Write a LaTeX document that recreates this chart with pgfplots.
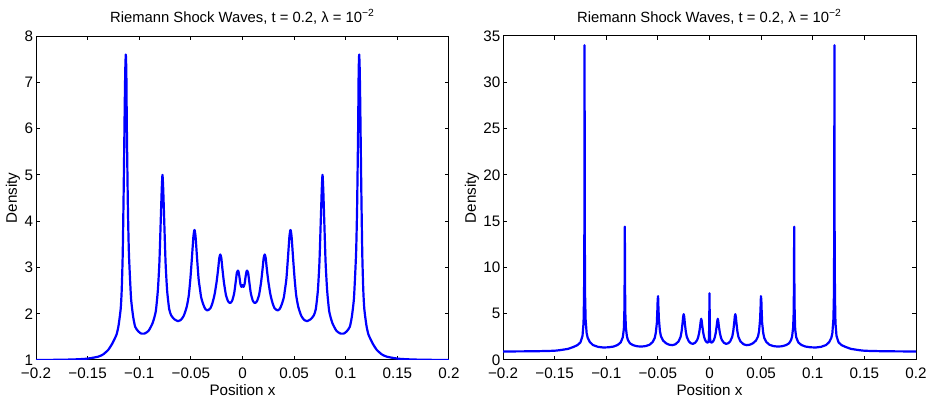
\documentclass[border=0pt]{standalone}
\usepackage{pgfplots}
\pgfplotsset{compat=1.18}
\usepackage{pgfplotstable}
\usepackage{graphicx}
\usepackage{fontspec}
\setmainfont{Liberation Sans}
\definecolor{mblue}{rgb}{0,0,1}

\pgfplotstableread{
x y
-0.2 1.0
-0.175 1.005
-0.160 1.015
-0.150 1.03
-0.140 1.07
-0.135 1.12
-0.130 1.22
-0.126 1.36
-0.122 1.55
-0.120 1.75
-0.118 2.1
-0.117 2.5
-0.116 3.3
-0.115 4.8
-0.114 6.6
-0.1135 7.3
-0.113 7.6
-0.1125 7.2
-0.112 6.0
-0.111 4.3
-0.110 3.3
-0.108 2.35
-0.106 1.95
-0.104 1.72
-0.101 1.62
-0.098 1.57
-0.095 1.57
-0.091 1.63
-0.087 1.8
-0.084 2.05
-0.082 2.5
-0.0805 3.1
-0.0792 4.0
-0.0782 4.7
-0.0775 5.0
-0.0768 4.7
-0.0758 4.0
-0.0745 3.1
-0.073 2.5
-0.071 2.1
-0.069 1.96
-0.066 1.88
-0.0625 1.84
-0.060 1.86
-0.057 1.95
-0.054 2.15
-0.052 2.4
-0.0505 2.75
-0.049 3.2
-0.0475 3.68
-0.0465 3.81
-0.0455 3.68
-0.044 3.2
-0.0425 2.75
-0.041 2.5
-0.040 2.35
-0.038 2.2
-0.036 2.1
-0.034 2.07
-0.031 2.12
-0.029 2.24
-0.027 2.42
-0.025 2.7
-0.0235 2.98
-0.0225 3.2
-0.0215 3.28
-0.0205 3.2
-0.0195 2.98
-0.018 2.68
-0.016 2.4
-0.014 2.27
-0.012 2.23
-0.010 2.28
-0.008 2.45
-0.0065 2.7
-0.0055 2.88
-0.0045 2.93
-0.004 2.92
-0.003 2.8
-0.002 2.64
-0.001 2.58
0 2.62
0.001 2.58
0.002 2.64
0.003 2.8
0.004 2.92
0.0045 2.93
0.0055 2.88
0.0065 2.7
0.008 2.45
0.010 2.28
0.012 2.23
0.014 2.27
0.016 2.4
0.018 2.68
0.0195 2.98
0.0205 3.2
0.0215 3.28
0.0225 3.2
0.0235 2.98
0.025 2.7
0.027 2.42
0.029 2.24
0.031 2.12
0.034 2.07
0.036 2.1
0.038 2.2
0.040 2.35
0.041 2.5
0.0425 2.75
0.044 3.2
0.0455 3.68
0.0465 3.81
0.0475 3.68
0.049 3.2
0.0505 2.75
0.052 2.4
0.054 2.15
0.057 1.95
0.060 1.86
0.0625 1.84
0.066 1.88
0.069 1.96
0.071 2.1
0.073 2.5
0.0745 3.1
0.0758 4.0
0.0768 4.7
0.0775 5.0
0.0782 4.7
0.0792 4.0
0.0805 3.1
0.082 2.5
0.084 2.05
0.087 1.8
0.091 1.63
0.095 1.57
0.098 1.57
0.101 1.62
0.104 1.72
0.106 1.95
0.108 2.35
0.110 3.3
0.111 4.3
0.112 6.0
0.1125 7.2
0.113 7.6
0.1135 7.3
0.114 6.6
0.115 4.8
0.116 3.3
0.117 2.5
0.118 2.1
0.120 1.75
0.122 1.55
0.126 1.36
0.130 1.22
0.135 1.12
0.140 1.07
0.150 1.03
0.160 1.015
0.175 1.005
0.2 1.0
}\lefttable

\pgfplotstableread{
x y
-0.2 0.92
-0.17 0.94
-0.155 0.98
-0.15 1.0
-0.145 1.06
-0.137 1.2
-0.132 1.4
-0.128 1.6
-0.125 1.9
-0.123 2.6
-0.122 4.0
-0.1215 7.0
-0.1212 14.0
-0.121 34.0
-0.1208 14.0
-0.1205 7.0
-0.120 4.4
-0.119 2.9
-0.118 2.4
-0.116 1.95
-0.113 1.62
-0.108 1.42
-0.103 1.35
-0.098 1.37
-0.093 1.45
-0.089 1.62
-0.086 1.9
-0.084 2.45
-0.083 3.3
-0.0825 5.0
-0.0822 8.5
-0.082 14.4
-0.0818 8.0
-0.0815 5.0
-0.081 3.5
-0.080 2.55
-0.079 2.15
-0.077 1.8
-0.074 1.6
-0.070 1.48
-0.066 1.45
-0.062 1.5
-0.058 1.65
-0.055 1.95
-0.053 2.4
-0.052 2.95
-0.051 4.0
-0.0505 5.4
-0.0502 6.5
-0.0498 6.9
-0.0495 5.8
-0.049 4.4
-0.048 3.1
-0.047 2.55
-0.045 2.1
-0.042 1.8
-0.039 1.65
-0.036 1.6
-0.033 1.7
-0.030 2.0
-0.028 2.5
-0.027 3.1
-0.026 4.1
-0.0255 4.7
-0.025 4.95
-0.0245 4.7
-0.024 4.1
-0.023 3.1
-0.022 2.5
-0.020 2.0
-0.018 1.8
-0.016 1.75
-0.014 1.85
-0.012 2.15
-0.011 2.45
-0.010 2.95
-0.009 3.7
-0.0085 4.2
-0.008 4.45
-0.0075 4.2
-0.007 3.7
-0.006 2.9
-0.005 2.4
-0.004 2.1
-0.003 1.95
-0.002 1.88
-0.001 1.95
-0.0006 2.3
-0.0003 3.5
0 7.2
0.0003 3.5
0.0006 2.3
0.001 1.95
0.002 1.88
0.003 1.95
0.004 2.1
0.005 2.4
0.006 2.9
0.007 3.7
0.0075 4.2
0.008 4.45
0.0085 4.2
0.009 3.7
0.010 2.95
0.011 2.45
0.012 2.15
0.014 1.85
0.016 1.75
0.018 1.8
0.020 2.0
0.022 2.5
0.023 3.1
0.024 4.1
0.0245 4.7
0.025 4.95
0.0255 4.7
0.026 4.1
0.027 3.1
0.028 2.5
0.030 2.0
0.033 1.7
0.036 1.6
0.039 1.65
0.042 1.8
0.045 2.1
0.047 2.55
0.048 3.1
0.049 4.4
0.0495 5.8
0.0498 6.9
0.0502 6.5
0.0505 5.4
0.051 4.0
0.052 2.95
0.053 2.4
0.055 1.95
0.058 1.65
0.062 1.5
0.066 1.45
0.070 1.48
0.074 1.6
0.077 1.8
0.079 2.15
0.080 2.55
0.081 3.5
0.0815 5.0
0.0818 8.0
0.082 14.4
0.0822 8.5
0.0825 5.0
0.083 3.3
0.084 2.45
0.086 1.9
0.089 1.62
0.093 1.45
0.098 1.37
0.103 1.35
0.108 1.42
0.113 1.62
0.116 1.95
0.118 2.4
0.119 2.9
0.120 4.4
0.1205 7.0
0.1208 14.0
0.121 34.0
0.1212 14.0
0.1215 7.0
0.122 4.0
0.123 2.6
0.125 1.9
0.128 1.6
0.132 1.4
0.137 1.2
0.145 1.06
0.15 1.0
0.155 0.98
0.17 0.94
0.2 0.92
}\righttable

\pgfplotsset{
  myaxis/.style={
    scale only axis,
    width=206.5pt, height=162pt,
    xmin=-0.2, xmax=0.2,
    xtick={-0.2,-0.15,-0.1,-0.05,0,0.05,0.1,0.15,0.2},
    xticklabels={−0.2,−0.15,−0.1,−0.05,0,0.05,0.1,0.15,0.2},
    tick align=inside,
    major tick length=1.8pt,
    axis line style={black, line width=0.5pt},
    every tick/.style={black, line width=0.5pt},
    /pgf/number format/assume math mode=true,
    tick label style={font=\fontsize{7.6}{8.5}\selectfont},
    xticklabel style={anchor=base, yshift=-9.3pt},
    yticklabel style={anchor=east, inner sep=0pt, xshift=-1.2pt},
    every axis title/.style={font=\fontsize{7.4}{8.5}\selectfont, at={(axis description cs:0.5,1)}, anchor=base, yshift=6.8pt, inner sep=0pt},
    every axis x label/.style={font=\fontsize{7.6}{8.5}\selectfont, at={(axis description cs:0.5,0)}, anchor=base, yshift=-17.8pt, inner sep=0pt},
    title={Riemann Shock Waves, t = 0.2, λ = 10\textsuperscript{−2}},
    xlabel={Position x},
    ylabel={\rotatebox{90}{Density}},
  }
}

\begin{document}
\begin{tikzpicture}
\begin{axis}[myaxis, at={(0pt,0pt)},
  ymin=1, ymax=8, ytick={1,2,3,4,5,6,7,8},
  every axis y label/.style={font=\fontsize{7.6}{8.5}\selectfont, at={(axis description cs:0,0.5)}, anchor=east, inner sep=0pt, xshift=-7.8pt}]
\addplot[mblue, line width=1.1pt, line join=round, mark=none, smooth, tension=0.35] table[x=x,y=y] {\lefttable};
\end{axis}
\begin{axis}[myaxis, at={(233.5pt,0pt)},
  ymin=0, ymax=35, ytick={0,5,10,15,20,25,30,35},
  every axis y label/.style={font=\fontsize{7.6}{8.5}\selectfont, at={(axis description cs:0,0.5)}, anchor=east, inner sep=0pt, xshift=-11.8pt}]
\addplot[mblue, line width=1.1pt, line join=round, mark=none] table[x=x,y=y] {\righttable};
\end{axis}
\pgfresetboundingbox
\path (-18pt,-19.5pt) rectangle (447pt,180pt);
\end{tikzpicture}
\end{document}
